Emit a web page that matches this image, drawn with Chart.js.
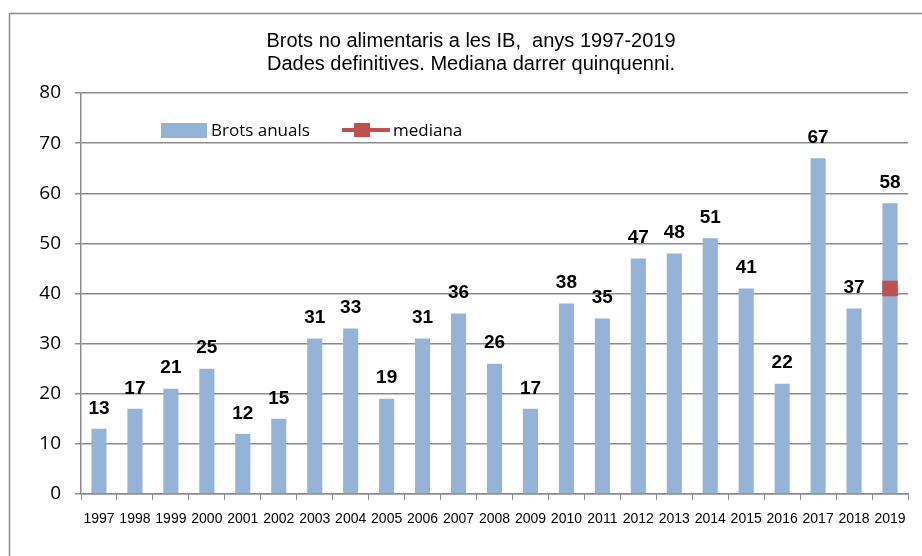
<!DOCTYPE html>
<html>
<head>
<meta charset="utf-8">
<script src="https://cdn.jsdelivr.net/npm/chart.js@4.4.1/dist/chart.umd.min.js"></script>
<style>
  html, body { margin: 0; padding: 0; background: #fff; }
  #wrap { width: 922px; height: 556px; }
</style>
</head>
<body>
<div id="wrap"><canvas id="myChart" width="922" height="556"></canvas></div>
<script>
// data
years = ['1997','1998','1999','2000','2001','2002','2003','2004','2005','2006','2007','2008',
         '2009','2010','2011','2012','2013','2014','2015','2016','2017','2018','2019']
brotsAnuals = [13,17,21,25,12,15,31,33,19,31,36,26,17,38,35,47,48,51,41,22,67,37,58]
// median of last five years, only shown on 2019
mediana = [null,null,null,null,null,null,null,null,null,null,null,null,
           null,null,null,null,null,null,null,null,null,null,41]
titleLines = ['Brots no alimentaris a les IB,  anys 1997-2019', 'Dades definitives. Mediana darrer quinquenni.']
yTicksMin = 0
yTicksMax = 80
yTicksStep = 10

var blue = '#95B3D7'
var red = '#C0504D'
var gray = '#8c8c8c'

// outer frame like the spreadsheet chart box
var framePlugin = {
  id: 'frame',
  beforeDraw: function(chart) {
    var c = chart.ctx
    c.save()
    c.strokeStyle = gray
    c.lineWidth = 1.5
    c.strokeRect(9.5, 13.5, 940, 560)
    c.restore()
  }
}

// value labels above the bars
var barLabels = {
  id: 'barLabels',
  afterDatasetsDraw: function(chart) {
    var c = chart.ctx
    var meta = chart.getDatasetMeta(0)
    c.save()
    c.font = 'bold 19px "Liberation Sans", Arial, sans-serif'
    c.fillStyle = '#000'
    c.textAlign = 'center'
    c.textBaseline = 'bottom'
    meta.data.forEach(function(bar, i) {
      c.fillText(String(brotsAnuals[i]), bar.x, bar.y - 11)
    })
    c.restore()
  }
}

// legend drawn inside the plot, top left
var insideLegend = {
  id: 'insideLegend',
  afterDraw: function(chart) {
    var c = chart.ctx
    var area = chart.chartArea
    var ds = chart.data.datasets
    var y = area.top + 37
    c.save()
    c.font = '17px "Open Sans", sans-serif'
    c.fillStyle = '#000'
    c.textBaseline = 'middle'
    // bars entry
    var x = area.left + 80
    c.fillStyle = ds[0].backgroundColor
    c.fillRect(x, y - 7, 46, 15)
    c.fillStyle = '#000'
    c.fillText(ds[0].label, x + 50, y + 1)
    // line entry
    x = area.left + 261
    c.strokeStyle = ds[1].borderColor
    c.lineWidth = 4
    c.beginPath()
    c.moveTo(x, y)
    c.lineTo(x + 48, y)
    c.stroke()
    c.fillStyle = ds[1].pointBackgroundColor
    c.fillRect(x + 12, y - 7, 16, 14)
    c.fillStyle = '#000'
    c.fillText(ds[1].label, x + 51, y + 1)
    c.restore()
  }
}

var ctx = document.getElementById('myChart').getContext('2d')
var myChart = new Chart(ctx, {
  type: 'bar',
  data: {
    labels: years,
    datasets: [
      {
        label: 'Brots anuals',
        data: brotsAnuals,
        backgroundColor: blue,
        borderWidth: 0,
        categoryPercentage: 1,
        barPercentage: 0.42,
        order: 1
      },
      {
        type: 'line',
        label: 'mediana',
        data: mediana,
        borderColor: red,
        backgroundColor: red,
        pointBackgroundColor: red,
        pointBorderColor: red,
        pointStyle: 'rect',
        pointRadius: 11,
        borderWidth: 0,
        showLine: false,
        order: 0
      }
    ]
  },
  options: {
    responsive: false,
    animation: false,
    layout: { padding: { left: 34, right: 14, top: 0, bottom: 0 } },
    scales: {
      x: {
        grid: { drawOnChartArea: false, drawTicks: true, tickLength: 6, color: gray, offset: true },
        border: { color: gray, width: 1.5 },
        ticks: {
          autoSkip: false, maxRotation: 0, minRotation: 0, padding: 11,
          color: '#000',
          font: { family: '"Liberation Sans", Arial, sans-serif', size: 14 }
        },
        afterFit: function(scale) { scale.height = 62 }
      },
      y: {
        min: yTicksMin,
        max: yTicksMax,
        ticks: {
          stepSize: yTicksStep, padding: 14, color: '#000',
          font: { family: '"Open Sans", sans-serif', size: 19 }
        },
        grid: { color: gray, lineWidth: 1.5, tickLength: 6 },
        border: { color: gray, width: 1.5 },
        afterFit: function(scale) { scale.width = 47 }
      }
    },
    plugins: {
      legend: { display: false },
      tooltip: { enabled: false },
      title: {
        display: true,
        text: titleLines,
        color: '#000',
        font: { family: '"Liberation Sans", Arial, sans-serif', size: 20, weight: 'normal', lineHeight: 1.15 },
        padding: { top: 30, bottom: 17 }
      }
    }
  },
  plugins: [framePlugin, barLabels, insideLegend]
})
</script>
</body>
</html>
